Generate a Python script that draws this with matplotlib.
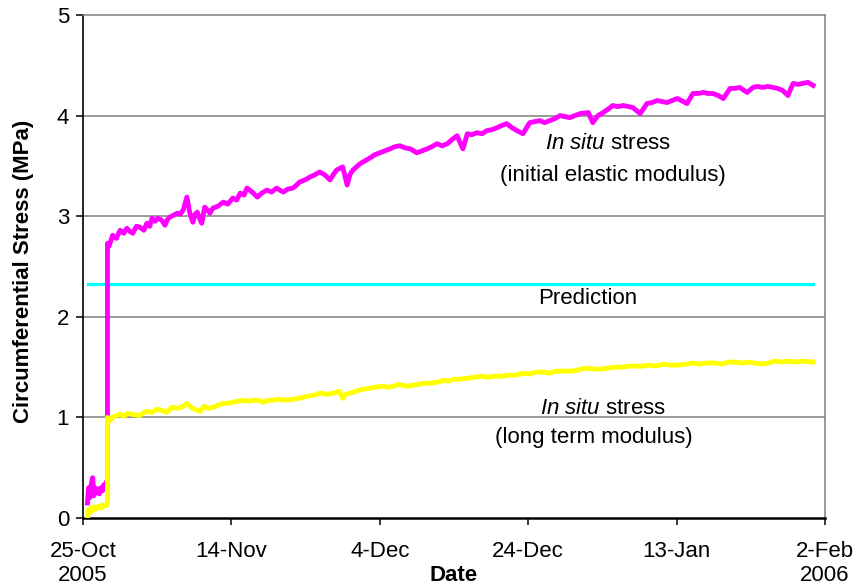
import matplotlib
matplotlib.use('Agg')
import matplotlib.pyplot as plt

plt.rcParams['font.family'] = 'Liberation Sans'
plt.rcParams['mathtext.fontset'] = 'custom'
plt.rcParams['mathtext.rm'] = 'Liberation Sans'
plt.rcParams['mathtext.it'] = 'Liberation Sans:italic'

# days since 25-Oct-2005, stress in MPa
initial_pts = [
    (0.6, 0.15), (0.75, 0.30), (0.9, 0.20), (1.1, 0.33), (1.3, 0.40), (1.45, 0.22),
    (1.6, 0.30), (1.8, 0.25), (2.0, 0.29), (2.2, 0.24), (2.4, 0.30), (2.6, 0.27),
    (2.8, 0.33), (3.0, 0.28), (3.15, 0.36), (3.3, 0.30),
    (3.3, 2.73), (3.5, 2.70), (4.0, 2.81), (4.5, 2.78), (5.0, 2.86), (5.5, 2.83),
    (5.9, 2.88), (6.3, 2.85), (6.7, 2.83), (7.2, 2.90), (7.7, 2.89), (8.2, 2.86),
    (8.6, 2.93), (9.0, 2.90), (9.3, 2.98), (9.7, 2.95), (10.1, 2.98), (10.6, 2.96),
    (11.05, 2.91), (11.4, 2.97), (11.7, 2.99), (12.2, 3.01), (12.7, 3.03), (13.1, 3.02),
    (13.5, 3.06), (14.0, 3.19), (14.4, 3.03), (14.8, 2.94), (15.1, 3.02), (15.4, 3.04),
    (15.7, 2.98), (16.0, 2.93), (16.4, 3.09), (16.8, 3.06), (17.1, 3.03), (17.5, 3.08),
    (18.2, 3.10), (18.9, 3.14), (19.5, 3.12), (20.2, 3.18), (20.7, 3.16), (21.2, 3.23),
    (21.7, 3.21), (22.1, 3.28), (22.8, 3.24), (23.5, 3.19), (24.1, 3.23), (24.8, 3.26),
    (25.4, 3.24), (26.1, 3.28), (26.5, 3.26), (27.0, 3.24), (27.6, 3.27), (28.3, 3.28),
    (28.8, 3.31), (29.2, 3.34), (29.9, 3.36), (30.6, 3.39), (31.2, 3.41), (31.9, 3.44),
    (32.6, 3.41), (33.3, 3.36), (33.8, 3.42), (34.2, 3.46), (35.0, 3.49), (35.6, 3.31),
    (36.0, 3.42), (36.4, 3.46), (37.3, 3.52), (38.0, 3.55), (38.7, 3.58), (39.3, 3.61),
    (40.0, 3.63), (40.7, 3.65), (41.4, 3.67), (42.0, 3.69), (42.7, 3.70), (43.4, 3.68),
    (44.1, 3.67), (45.0, 3.63), (45.7, 3.65), (46.4, 3.67), (47.0, 3.69), (47.7, 3.72),
    (48.4, 3.70), (49.1, 3.72), (49.7, 3.76), (50.4, 3.80), (51.2, 3.67), (51.8, 3.82),
    (52.4, 3.81), (53.1, 3.83), (53.8, 3.82), (54.4, 3.85), (55.1, 3.86), (55.8, 3.88),
    (56.4, 3.90), (57.1, 3.92), (57.8, 3.88), (58.5, 3.85), (59.3, 3.82), (60.2, 3.93),
    (60.9, 3.94), (61.6, 3.95), (62.2, 3.93), (62.9, 3.95), (63.6, 3.97), (64.3, 4.00),
    (65.0, 3.99), (65.6, 3.98), (66.3, 4.00), (67.0, 4.02), (68.1, 4.03), (68.7, 3.93),
    (69.4, 4.00), (70.1, 4.03), (70.7, 4.06), (71.4, 4.10), (72.1, 4.09), (72.8, 4.10),
    (73.5, 4.09), (74.1, 4.08), (75.1, 4.02), (76.0, 4.12), (76.7, 4.13), (77.4, 4.15),
    (78.0, 4.14), (78.7, 4.13), (79.4, 4.15), (80.1, 4.17), (81.4, 4.12), (82.2, 4.22),
    (82.9, 4.22), (83.6, 4.23), (84.2, 4.22), (84.9, 4.22), (85.6, 4.20), (86.3, 4.17),
    (87.2, 4.27), (87.8, 4.27), (88.5, 4.28), (89.5, 4.23), (90.3, 4.28), (90.9, 4.29),
    (91.6, 4.28), (92.3, 4.29), (93.0, 4.28), (93.6, 4.27), (94.3, 4.25), (95.0, 4.20),
    (95.7, 4.32), (96.3, 4.31), (97.0, 4.32), (97.7, 4.33), (98.4, 4.30),
]

longterm_pts = [
    (0.6, 0.00), (0.7, 0.08), (0.9, 0.05), (1.1, 0.10), (1.3, 0.07), (1.5, 0.11),
    (1.8, 0.09), (2.1, 0.12), (2.4, 0.10), (2.7, 0.13), (3.0, 0.12), (3.3, 0.14),
    (3.3, 1.00), (3.7, 0.97), (4.0, 1.00), (4.5, 1.02), (5.0, 1.03), (5.5, 1.01),
    (6.0, 1.04), (6.7, 1.03), (7.4, 1.02), (7.7, 1.02), (8.2, 1.05), (8.6, 1.06),
    (9.3, 1.05), (9.9, 1.08), (10.6, 1.07), (11.3, 1.05), (11.8, 1.09), (12.1, 1.10),
    (12.6, 1.09), (13.1, 1.10), (13.5, 1.11), (14.0, 1.14), (14.4, 1.11), (14.8, 1.09),
    (15.4, 1.07), (15.8, 1.06), (16.3, 1.11), (16.9, 1.09), (17.5, 1.10), (18.2, 1.12),
    (18.9, 1.14), (19.6, 1.14), (20.2, 1.15), (20.9, 1.16), (21.6, 1.17), (22.2, 1.16),
    (22.9, 1.17), (23.6, 1.17), (24.3, 1.15), (24.9, 1.17), (25.6, 1.17), (26.5, 1.18),
    (27.3, 1.17), (28.3, 1.18), (29.2, 1.19), (30.2, 1.21), (31.1, 1.22), (32.0, 1.24),
    (32.9, 1.23), (33.7, 1.24), (34.5, 1.26), (35.0, 1.19), (35.4, 1.23), (36.4, 1.25),
    (37.2, 1.27), (37.8, 1.28), (38.6, 1.29), (39.4, 1.30), (40.4, 1.31), (41.1, 1.30),
    (41.8, 1.31), (42.6, 1.33), (43.5, 1.31), (44.5, 1.32), (45.3, 1.33), (46.1, 1.34),
    (46.9, 1.34), (47.8, 1.35), (48.6, 1.37), (49.2, 1.36), (50.0, 1.38), (50.8, 1.38),
    (51.8, 1.39), (52.9, 1.40), (53.6, 1.41), (54.6, 1.40), (55.6, 1.41), (56.6, 1.41),
    (57.4, 1.42), (58.4, 1.42), (59.2, 1.44), (60.0, 1.43), (61.1, 1.45), (62.1, 1.45),
    (62.9, 1.44), (63.8, 1.46), (64.8, 1.46), (65.8, 1.46), (66.6, 1.47), (67.8, 1.49),
    (68.7, 1.48), (69.8, 1.48), (70.7, 1.49), (71.8, 1.50), (72.7, 1.50), (73.6, 1.51),
    (74.6, 1.51), (75.5, 1.51), (76.3, 1.52), (77.2, 1.51), (78.3, 1.53), (79.2, 1.52),
    (80.2, 1.52), (81.3, 1.53), (82.1, 1.54), (83.2, 1.53), (84.1, 1.54), (85.2, 1.54),
    (86.0, 1.53), (87.0, 1.55), (87.8, 1.55), (88.8, 1.54), (89.6, 1.55), (90.6, 1.54),
    (91.4, 1.53), (92.4, 1.54), (93.2, 1.56), (94.1, 1.55), (95.2, 1.56), (96.0, 1.55),
    (97.0, 1.56), (98.4, 1.55),
]

prediction_days = [0.67, 98.4]
prediction_vals = [2.33, 2.33]

tick_days = [0, 20, 40, 60, 80, 100]
tick_labels = ['25-Oct\n2005', '14-Nov', '4-Dec', '24-Dec', '13-Jan', '2-Feb\n2006']

fig = plt.figure(figsize=(8.58, 5.86), dpi=100)
ax = fig.add_axes([83 / 858, 68 / 586, 742 / 858, 503 / 586])

# grid lines behind the data
for yv in [1, 2, 3, 4]:
    ax.axhline(yv, color='#808080', lw=1.1, zorder=1)

d, v = zip(*initial_pts)
ax.plot(d, v, color='#FF00FF', lw=3.5, zorder=3)
d, v = zip(*longterm_pts)
ax.plot(d, v, color='#FFFF00', lw=3.5, zorder=4)
ax.plot(prediction_days, prediction_vals, color='#00FFFF', lw=2.3, zorder=2)

ax.set_xlim(0, 100)
ax.set_ylim(0, 5)
ax.set_xticks(tick_days)
ax.set_xticklabels(tick_labels, fontsize=16)
ax.set_yticks([0, 1, 2, 3, 4, 5])
ax.tick_params(axis='y', labelsize=16, length=5, width=1.1, direction='out', pad=5)
ax.tick_params(axis='x', length=5, width=1.1, direction='out', pad=11.5)

for side in ['top', 'right']:
    ax.spines[side].set_color('#808080')
    ax.spines[side].set_linewidth(1.1)
ax.spines['left'].set_linewidth(1.2)
ax.spines['bottom'].set_linewidth(1.8)

ax.set_ylabel('Circumferential Stress (MPa)', fontsize=16, fontweight='bold')
ax.yaxis.set_label_coords(-0.066, 0.49)
ax.set_xlabel('Date', fontsize=16, fontweight='bold')
ax.xaxis.set_label_coords(0.5, -0.094)

# annotations
ax.text(70.7, 3.72, r'$\mathit{In\ situ}$ stress', fontsize=16, ha='center', va='center')
ax.text(71.4, 3.40, '(initial elastic modulus)', fontsize=16, ha='center', va='center')
ax.text(68.0, 2.18, 'Prediction', fontsize=16, ha='center', va='center')
ax.text(70.1, 1.09, r'$\mathit{In\ situ}$ stress', fontsize=16, ha='center', va='center')
ax.text(68.8, 0.80, '(long term modulus)', fontsize=16, ha='center', va='center')

plt.savefig('out.png', dpi=100)
